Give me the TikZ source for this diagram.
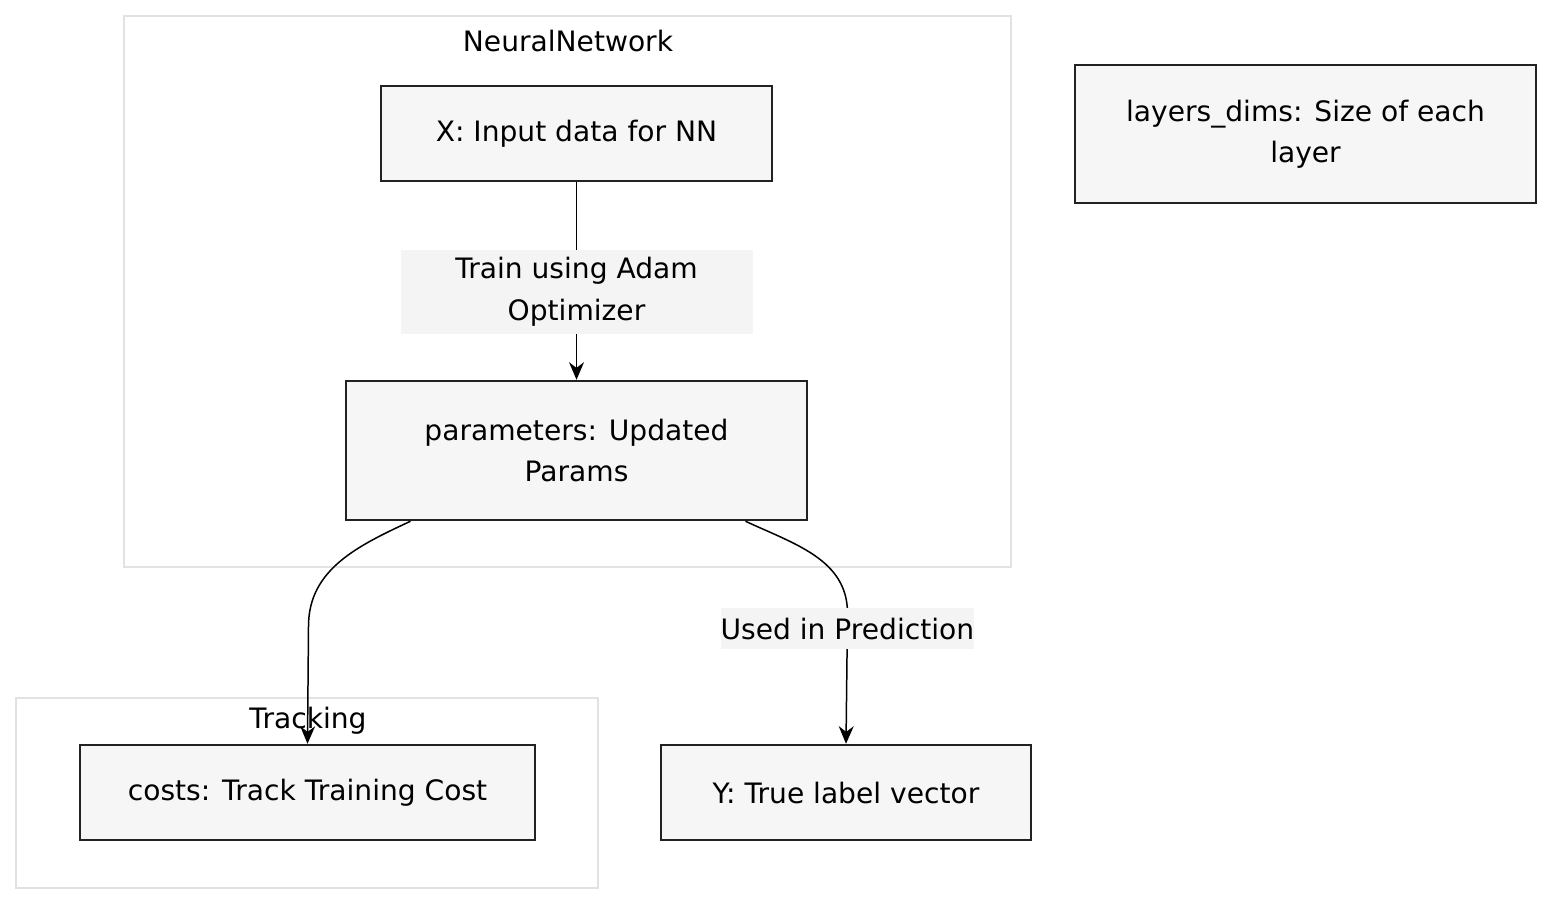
\documentclass[tikz,border=0pt]{standalone}
\usepackage{fontspec}
\setmainfont{DejaVu Sans}
\usetikzlibrary{shapes,arrows.meta}
\definecolor{boxfill}{HTML}{F6F6F6}
\definecolor{lblfill}{HTML}{F4F4F4}
\definecolor{clusterline}{HTML}{E2E2E2}
\definecolor{boxline}{HTML}{222222}
\tikzstyle{arrow} = [line width=0.85pt, -{Stealth[length=10pt,width=8.5pt]}]
\tikzstyle{block} = [rectangle, draw=boxline, line width=1.4pt, fill=boxfill,
align=center, font=\fontsize{16}{23.5}\selectfont, inner sep=0pt]
\tikzstyle{cluster} = [rectangle, draw=clusterline, line width=1.1pt, fill=white, inner sep=0pt]
\tikzstyle{title} = [font=\fontsize{16}{23.5}\selectfont, inner sep=0pt]
\tikzstyle{edgelabel} = [fill=lblfill, align=center, font=\fontsize{16}{23.5}\selectfont, inner sep=0pt]

\begin{document}
\begin{tikzpicture}
				\useasboundingbox (0,0) rectangle (31.36,-18.32);
				% Place groups
				\node (nnbox) [cluster, minimum width=17.74cm, minimum height=11.02cm] at (11.35,-5.83) {};
				\node (nntitle) [title] at (11.36,-0.82) {NeuralNetwork};
				\node (trackbox) [cluster, minimum width=11.64cm, minimum height=3.80cm] at (6.14,-15.86) {};
				\node (tracktitle) [title] at (6.16,-14.42) {Tracking};

				% Place nodes
				\node (input) [block, minimum width=7.82cm, minimum height=1.90cm] at (11.53,-2.67) {X: Input data for NN};
				\node (params) [block, minimum width=9.22cm, minimum height=2.78cm] at (11.53,-9.01) {parameters: Updated\\Params};
				\node (layers) [block, minimum width=9.22cm, minimum height=2.76cm] at (26.11,-2.68) {layers\_dims: Size of each\\layer};
				\node (costs) [block, minimum width=9.10cm, minimum height=1.90cm] at (6.15,-15.85) {costs: Track Training Cost};
				\node (truth) [block, minimum width=7.40cm, minimum height=1.90cm] at (16.92,-15.85) {Y: True label vector};

				% Draw arrows
				\draw [arrow] (input) -- node [edgelabel, pos=0.555, minimum width=7.04cm, minimum height=1.68cm] {Train using Adam\\Optimizer} (params);
				\draw [arrow] ([xshift=-3.32cm]params.south) to [out=205, in=90] ++(-2.04,-2.10) -- (costs.north);
				\draw [arrow] ([xshift=3.38cm]params.south) to [out=-25, in=90] ++(2.04,-1.84) -- node [edgelabel, pos=0.12, minimum width=4.80cm, minimum height=0.82cm] {Used in Prediction} (truth.north);

			\end{tikzpicture}
\end{document}
